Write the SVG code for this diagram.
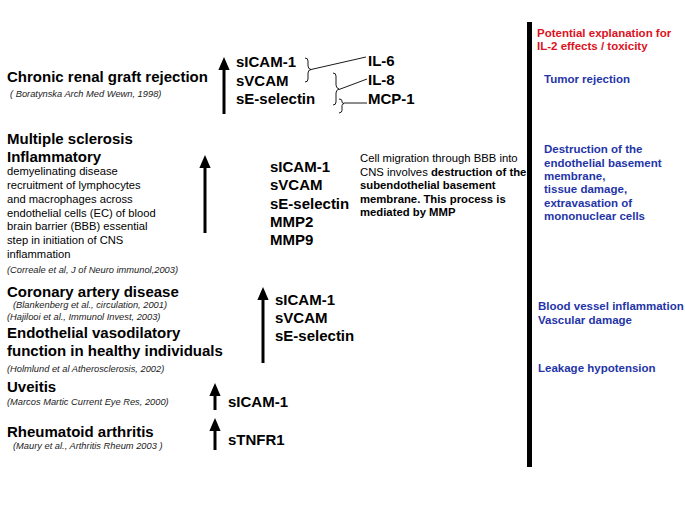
<svg xmlns="http://www.w3.org/2000/svg" width="685" height="513" viewBox="0 0 685 513">
<defs>
<style>
text{font-family:"Liberation Sans",Arial,sans-serif;fill:#000}
.h{font-size:15px;font-weight:bold}
.m{font-size:15px;font-weight:bold}
.r{font-size:9.3px;font-style:italic;fill:#222}
.d{font-size:11.2px}
.p{font-size:11.3px}
.b{font-weight:bold}
.red{font-size:11.5px;font-weight:bold;fill:#dd1122}
.blue{font-size:11.5px;font-weight:bold;fill:#1f35a8}
.ar{stroke:#000;stroke-width:3;fill:none}
.br{stroke:#000;stroke-width:0.9;fill:none}
</style>
<marker id="ah" markerWidth="13" markerHeight="15" refX="0" refY="6.5" orient="auto" markerUnits="userSpaceOnUse" viewBox="0 0 15 13">
<path d="M0,0 L15,6.5 L0,13 Z" fill="#000"/>
</marker>
</defs>
<rect width="685" height="513" fill="#fff"/>

<g id="bar"><rect x="527" y="22" width="5" height="445" fill="#000"/></g>

<g id="connectors">
<line class="ar" x1="224" y1="114" x2="224" y2="70" marker-end="url(#ah)"/>
<line class="ar" x1="205" y1="233" x2="205" y2="168" marker-end="url(#ah)"/>
<line class="ar" x1="263" y1="363" x2="263" y2="300" marker-end="url(#ah)"/>
<line class="ar" x1="215" y1="410" x2="215" y2="396" marker-end="url(#ah)"/>
<line class="ar" x1="215" y1="450" x2="215" y2="431" marker-end="url(#ah)"/>
<path class="br" d="M305,58 q3,0 3,3 v5 q0,3 3,3.5 q-3,0.5 -3,3.5 v6 q0,3 -3,3"/>
<path class="br" d="M333,73 q3,0 3,3 v9 q0,3 3,4 q-3,1 -3,4 v9 q0,3 -3,3"/>
<path class="br" d="M339,99 q3,0 3,2 v1 q0,1 2,1.5 q-2,0.5 -2,2 v5 q0,2 -3,2.5"/>
<line class="br" x1="311" y1="69.5" x2="366" y2="57"/>
<line class="br" x1="339" y1="89.5" x2="367" y2="79"/>
<line class="br" x1="344" y1="103" x2="367" y2="103"/>
</g>

<g id="renal">
<text class="h" x="7" y="82">Chronic renal graft rejection</text>
<text class="r" x="10" y="97">( Boratynska Arch Med Wewn, 1998)</text>
</g>
<g id="renal-markers">
<text class="m" x="236" y="67">sICAM-1</text>
<text class="m" x="236" y="86">sVCAM</text>
<text class="m" x="236" y="104">sE-selectin</text>
</g>
<g id="cytokines">
<text class="m" x="368" y="66">IL-6</text>
<text class="m" x="368" y="85">IL-8</text>
<text class="m" x="368" y="104">MCP-1</text>
</g>

<g id="ms">
<text class="h" x="7" y="144">Multiple sclerosis</text>
<text class="h" x="7" y="162">Inflammatory</text>
<text class="d" x="7" y="175">demyelinating disease</text>
<text class="d" x="7" y="189">recruitment of lymphocytes</text>
<text class="d" x="7" y="202.5">and macrophages across</text>
<text class="d" x="7" y="216.5">endothelial cells (EC) of blood</text>
<text class="d" x="7" y="230">brain barrier (BBB) essential</text>
<text class="d" x="7" y="244">step in initiation of CNS</text>
<text class="d" x="7" y="257.5">inflammation</text>
<text class="r" x="7" y="273">(Correale et al, J of Neuro immunol,2003)</text>
</g>
<g id="ms-markers">
<text class="m" x="270" y="172">sICAM-1</text>
<text class="m" x="270" y="190">sVCAM</text>
<text class="m" x="270" y="208.5">sE-selectin</text>
<text class="m" x="270" y="226.5">MMP2</text>
<text class="m" x="270" y="244.5">MMP9</text>
</g>
<g id="ms-note">
<text class="p" x="360" y="162">Cell migration through BBB into</text>
<text class="p" x="360" y="175.5">CNS involves <tspan class="b">destruction of the</tspan></text>
<text class="p b" x="360" y="189">subendothelial basement</text>
<text class="p b" x="360" y="202.5">membrane. This process is</text>
<text class="p b" x="360" y="216">mediated by MMP</text>
</g>

<g id="coronary">
<text class="h" x="7" y="297">Coronary artery disease</text>
<text class="r" x="13" y="307.5">(Blankenberg et al., circulation, 2001)</text>
<text class="r" x="7" y="320">(Hajilooi et al., Immunol Invest, 2003)</text>
<text class="h" x="7" y="338">Endothelial vasodilatory</text>
<text class="h" x="7" y="356">function in healthy individuals</text>
<text class="r" x="7" y="372">(Holmlund et al Atherosclerosis, 2002)</text>
</g>
<g id="coronary-markers">
<text class="m" x="275" y="305">sICAM-1</text>
<text class="m" x="275" y="323">sVCAM</text>
<text class="m" x="275" y="341">sE-selectin</text>
</g>

<g id="uveitis">
<text class="h" x="7" y="392">Uveitis</text>
<text class="r" x="7" y="404.5">(Marcos Martic Current Eye Res, 2000)</text>
</g>
<g id="uveitis-marker"><text class="m" x="228" y="407">sICAM-1</text></g>

<g id="ra">
<text class="h" x="7" y="437">Rheumatoid arthritis</text>
<text class="r" x="13" y="449">(Maury et al., Arthritis Rheum 2003 )</text>
</g>
<g id="ra-marker"><text class="m" x="228" y="445">sTNFR1</text></g>

<g id="explanation">
<text class="red" x="537" y="37">Potential  explanation for</text>
<text class="red" x="537" y="50">IL-2  effects / toxicity</text>
</g>
<g id="tumor"><text class="blue" x="544" y="83">Tumor rejection</text></g>
<g id="destruction">
<text class="blue" x="544" y="153">Destruction of the</text>
<text class="blue" x="544" y="166.5">endothelial basement</text>
<text class="blue" x="544" y="180">membrane,</text>
<text class="blue" x="544" y="193">tissue damage,</text>
<text class="blue" x="544" y="206.5">extravasation of</text>
<text class="blue" x="544" y="220">mononuclear cells</text>
</g>
<g id="vessel">
<text class="blue" x="538" y="310">Blood vessel inflammation</text>
<text class="blue" x="538" y="323.5">Vascular damage</text>
</g>
<g id="leakage"><text class="blue" x="538" y="372">Leakage hypotension</text></g>
</svg>
